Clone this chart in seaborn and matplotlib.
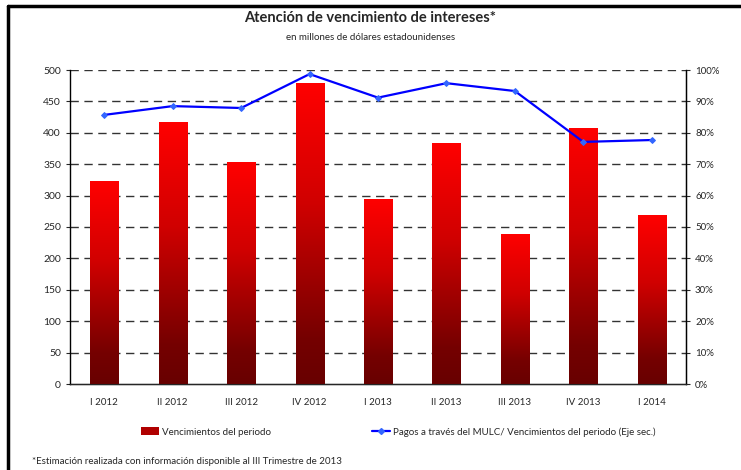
import numpy as np
import pandas as pd
import matplotlib
matplotlib.use("Agg")
import matplotlib.pyplot as plt
import seaborn as sns
from matplotlib.colors import LinearSegmentedColormap
from matplotlib.patches import Rectangle
from matplotlib.lines import Line2D
from matplotlib.ticker import MultipleLocator, FuncFormatter

# --- Data ---
periodos = ["I 2012", "II 2012", "III 2012", "IV 2012", "I 2013",
            "II 2013", "III 2013", "IV 2013", "I 2014"]
vencimientos = [323, 417, 353, 479, 295, 384, 239, 408, 269]
pagos_pct = [85.7, 88.5, 87.9, 98.7, 91.2, 95.8, 93.3, 77.1, 77.7]

df = pd.DataFrame({"periodo": periodos, "venc": vencimientos, "pct": pagos_pct})

sns.set_style("white")
plt.rcParams["font.family"] = ["Lato", "DejaVu Sans"]

fig = plt.figure(figsize=(7.41, 4.70), dpi=100)
ax = fig.add_axes([70 / 741, 1 - 384 / 470, 616 / 741, 314 / 470])

sns.barplot(data=df, x="periodo", y="venc", color="red", width=0.41,
            saturation=1, ax=ax, zorder=3)

# vertical red -> dark red gradient on each bar
grad = LinearSegmentedColormap.from_list(
    "rg", [(0, "#680000"), (0.15, "#750000"), (0.6, "#d00000"), (1, "#ff0000")])
g = np.linspace(0, 1, 256).reshape(-1, 1)
for bar in ax.patches:
    x0, y0 = bar.get_x(), bar.get_y()
    w, h = bar.get_width(), bar.get_height()
    im = ax.imshow(g, cmap=grad, origin="lower", aspect="auto",
                   extent=[x0, x0 + w, y0, y0 + h], zorder=3)
    im.set_clip_path(bar)
    bar.set_facecolor("none")
    bar.set_edgecolor("none")

ax.set_xlim(-0.5, len(periodos) - 0.5)
ax.set_ylim(0, 500)
ax.yaxis.set_major_locator(MultipleLocator(50))
ax.set_xlabel("")
ax.set_ylabel("")
for y in range(50, 501, 50):
    ax.axhline(y, color="#333333", lw=1, ls=(0, (6, 4)), zorder=1)

ax.set_xticks(np.arange(-0.5, len(periodos), 1), minor=False)
ax.set_xticklabels([])
ax.set_xticks(range(len(periodos)), minor=True)
ax.set_xticklabels(periodos, minor=True)
ax.tick_params(axis="x", which="major", length=3, direction="in", color="black")
ax.tick_params(axis="x", which="minor", length=0, labelsize=7, pad=10)
ax.tick_params(axis="y", length=3, direction="out", labelsize=7.5, left=True)

ax.spines["top"].set_visible(False)
for s in ["left", "bottom", "right"]:
    ax.spines[s].set_color("black")
    ax.spines[s].set_linewidth(1)

ax2 = ax.twinx()
sns.lineplot(data=df, x="periodo", y="pct", color="#0000ff", lw=1.6,
             marker="D", markersize=3, markerfacecolor="#3366ff",
             markeredgecolor="#3366ff", ax=ax2, zorder=4)
ax2.set_ylim(0, 100)
ax2.yaxis.set_major_locator(MultipleLocator(10))
ax2.yaxis.set_major_formatter(FuncFormatter(lambda v, p: f"{int(v)}%"))
ax2.set_ylabel("")
ax2.set_xlabel("")
ax2.tick_params(axis="y", length=3, direction="out", labelsize=7, right=True)
for s in ["top", "left"]:
    ax2.spines[s].set_visible(False)
ax2.spines["right"].set_color("black")

# titles
fig.text(0.5, 1 - 18 / 470, "Atención de vencimiento de intereses*",
         ha="center", va="center", fontsize=10.5, fontweight="bold")
fig.text(0.5, 1 - 38 / 470, "en millones de dólares estadounidenses",
         ha="center", va="center", fontsize=7)

# legends
h1 = Rectangle((0, 0), 1, 1, facecolor="#b00000", edgecolor="none")
h2 = Line2D([0], [0], color="#0000ff", lw=1.6, marker="D", markersize=3,
            markerfacecolor="#3366ff", markeredgecolor="#3366ff")
fig.legend([h1], ["Vencimientos del periodo"], loc="center left",
           bbox_to_anchor=(141 / 741, 1 - 432 / 470), frameon=False,
           fontsize=7, handlelength=1.9, handleheight=0.8,
           handletextpad=0.25, borderpad=0, borderaxespad=0)
fig.legend([h2], ["Pagos a través del MULC/ Vencimientos del periodo (Eje sec.)"],
           loc="center left", bbox_to_anchor=(372 / 741, 1 - 432 / 470),
           frameon=False, fontsize=7, handlelength=1.9, handletextpad=0.25,
           borderpad=0, borderaxespad=0)

fig.text(32 / 741, 1 - 462 / 470,
         "*Estimación realizada con información disponible al III Trimestre de 2013",
         ha="left", va="center", fontsize=7)

# outer frame (top and left edges only)
fig.add_artist(Line2D([8 / 741, 1], [1 - 6 / 470, 1 - 6 / 470],
                      transform=fig.transFigure, color="black", lw=2.5))
fig.add_artist(Line2D([8 / 741, 8 / 741], [0, 1 - 6 / 470],
                      transform=fig.transFigure, color="black", lw=2.5))

fig.savefig("out.png", dpi=100)
